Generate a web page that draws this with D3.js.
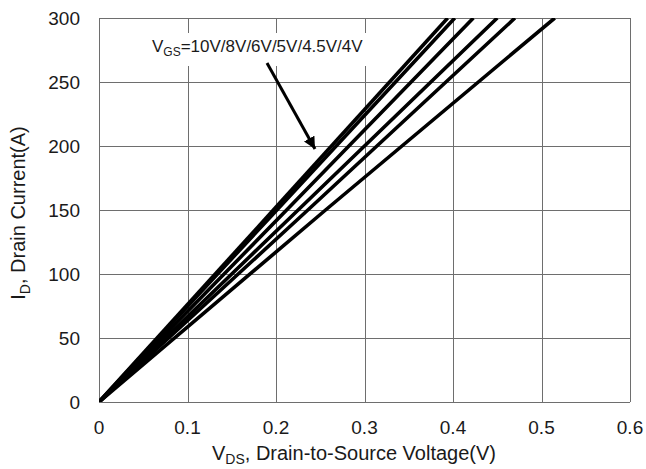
<!DOCTYPE html>
<html>
<head>
<meta charset="utf-8">
<script src="https://cdn.jsdelivr.net/npm/d3@7"></script>
<style>
  body { margin: 0; background: #fff; }
  text { font-family: Arial, "Liberation Sans", sans-serif; fill: #1a1a1a; }
</style>
</head>
<body>
<svg class="chart"></svg>
<script>
// gate voltages, one line per value
var vgsLabels = ["10V", "8V", "6V", "5V", "4.5V", "4V"];
// V_DS (V) at I_D = 0, 150, 300 A
var idPoints = [0, 150, 300];
var vdsCurves = [
  [0, 0.197, 0.394],
  [0, 0.201, 0.402],
  [0, 0.212, 0.423],
  [0, 0.225, 0.450],
  [0, 0.236, 0.470],
  [0, 0.256, 0.515]
];
var xTicks = [0, 0.1, 0.2, 0.3, 0.4, 0.5, 0.6];
var yTicks = [0, 50, 100, 150, 200, 250, 300];

function drawChart() {
  var W = 646, H = 469;
  var plotLeft = 99, plotRight = 630, plotTop = 18, plotBottom = 402;

  var svg = d3.select(".chart").attr("width", W).attr("height", H);

  var xScale = d3.scaleLinear().domain([0, 0.6]).range([plotLeft, plotRight]);
  var yScale = d3.scaleLinear().domain([0, 300]).range([plotBottom, plotTop]);

  drawGrid();
  drawCurves();
  drawLabel();
  drawAxes();

  function drawGrid() {
    var g = svg.append("g");
    g.selectAll(".vgrid")
      .data(xTicks)
      .enter()
      .append("line")
      .attr("x1", function(d) { return Math.round(xScale(d)) + 0.5; })
      .attr("x2", function(d) { return Math.round(xScale(d)) + 0.5; })
      .attr("y1", plotTop)
      .attr("y2", plotBottom)
      .attr("stroke", "#6e6e6e")
      .attr("stroke-width", 1);

    g.selectAll(".hgrid")
      .data(yTicks)
      .enter()
      .append("line")
      .attr("x1", plotLeft)
      .attr("x2", plotRight)
      .attr("y1", function(d) { return Math.round(yScale(d)) + 0.5; })
      .attr("y2", function(d) { return Math.round(yScale(d)) + 0.5; })
      .attr("stroke", "#6e6e6e")
      .attr("stroke-width", 1);
  }

  function drawCurves() {
    svg.append("clipPath")
      .attr("id", "plotclip")
      .append("rect")
      .attr("x", plotLeft)
      .attr("y", plotTop)
      .attr("width", plotRight - plotLeft)
      .attr("height", plotBottom - plotTop);

    var line = d3.line()
      .x(function(d) { return xScale(d[0]); })
      .y(function(d) { return yScale(d[1]); });

    svg.append("g")
      .attr("clip-path", "url(#plotclip)")
      .selectAll("path")
      .data(vdsCurves)
      .enter()
      .append("path")
      .attr("d", function(c) {
        return line(c.map(function(v, i) { return [v, idPoints[i]]; }));
      })
      .attr("fill", "none")
      .attr("stroke", "#000")
      .attr("stroke-width", 3.6);
  }

  function drawLabel() {
    // white box behind the annotation, hides the grid
    svg.append("rect")
      .attr("x", 138)
      .attr("y", 33)
      .attr("width", 232)
      .attr("height", 33)
      .attr("fill", "#fff");

    var t = svg.append("text")
      .attr("x", 152)
      .attr("y", 52)
      .style("font-size", "17px");
    t.append("tspan").text("V");
    t.append("tspan").attr("dy", 4).style("font-size", "12px").text("GS");
    t.append("tspan").attr("dy", -4).text("=" + vgsLabels.join("/"));

    svg.append("defs").append("marker")
      .attr("id", "arrowhead")
      .attr("viewBox", "0 0 10 10")
      .attr("refX", 10)
      .attr("refY", 5)
      .attr("markerWidth", 4)
      .attr("markerHeight", 4)
      .attr("markerUnits", "strokeWidth")
      .attr("orient", "auto")
      .append("path")
      .attr("d", "M0,0 L10,5 L0,10 Z")
      .attr("fill", "#000");

    svg.append("line")
      .attr("x1", 267)
      .attr("y1", 63)
      .attr("x2", 315)
      .attr("y2", 149)
      .attr("stroke", "#000")
      .attr("stroke-width", 3)
      .attr("marker-end", "url(#arrowhead)");
  }

  function drawAxes() {
    svg.selectAll(".xtick")
      .data(xTicks)
      .enter()
      .append("text")
      .attr("x", function(d) { return xScale(d); })
      .attr("y", 434)
      .attr("text-anchor", "middle")
      .style("font-size", "19px")
      .text(function(d) { return d; });

    svg.selectAll(".ytick")
      .data(yTicks)
      .enter()
      .append("text")
      .attr("x", 80)
      .attr("y", function(d) { return yScale(d) + 7; })
      .attr("text-anchor", "end")
      .style("font-size", "19px")
      .text(function(d) { return d; });

    var xl = svg.append("text")
      .attr("x", 354)
      .attr("y", 460)
      .attr("text-anchor", "middle")
      .style("font-size", "20px");
    xl.append("tspan").text("V");
    xl.append("tspan").attr("dy", 4).style("font-size", "14px").text("DS");
    xl.append("tspan").attr("dy", -4).text(", Drain-to-Source Voltage(V)");

    var yl = svg.append("text")
      .attr("transform", "translate(25,213) rotate(-90)")
      .attr("text-anchor", "middle")
      .style("font-size", "20px");
    yl.append("tspan").text("I");
    yl.append("tspan").attr("dy", 5).style("font-size", "14px").text("D");
    yl.append("tspan").attr("dy", -5).text(", Drain Current(A)");
  }
}

drawChart();
</script>
</body>
</html>
